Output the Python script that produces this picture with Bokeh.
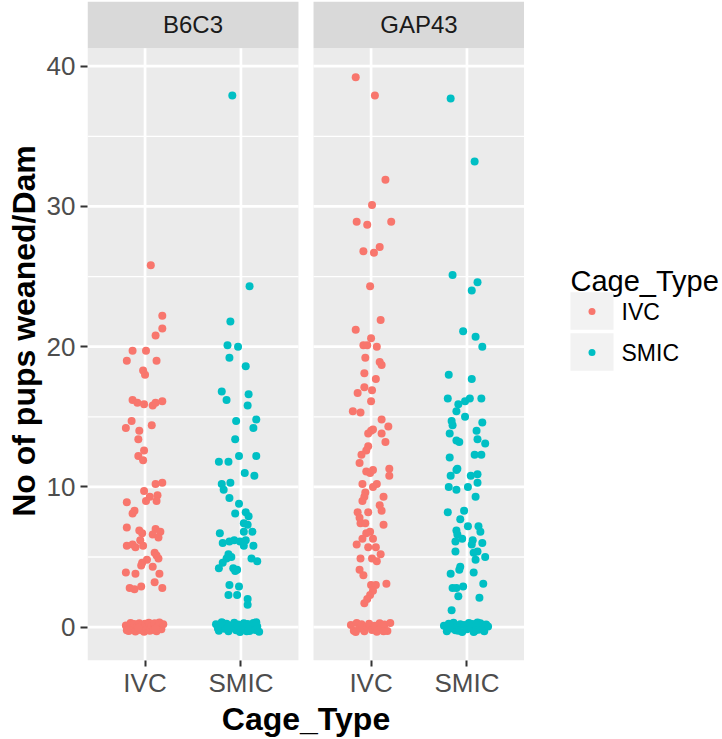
from bokeh.plotting import figure
from bokeh.models import Range1d, FixedTicker, ColumnDataSource
from bokeh.layouts import row
from bokeh.core.properties import value
from bokeh.embed import file_html
from bokeh.resources import INLINE

# ---------------- data (jitter as seen) ----------------
facets = ["B6C3", "GAP43"]
cage_types = ["IVC", "SMIC"]
y_ticks = [0, 10, 20, 30, 40]

b6c3_ivc_y = [25.8, 22.2, 21.3, 20.8, 19.7, 19.7, 19.0, 19.0, 18.3, 18.0, 16.2, 16.0, 15.9, 15.8, 16.0, 16.1,
              14.7, 14.2, 14.4, 14.0, 13.4, 12.6, 12.2, 11.9, 10.3, 10.2, 9.7, 9.4, 9.3, 8.9, 9.0, 9.0, 8.3, 8.1,
              7.1, 6.9, 7.0, 6.8, 6.7, 6.6, 6.4, 6.2, 5.8, 5.9, 5.7, 5.8, 5.3, 5.1, 4.9, 4.8, 4.6, 4.4, 4.3,
              3.9, 3.8, 3.8, 3.2, 2.8, 2.7, 2.9, 2.8,
              0.12, -0.28, 0.3, -0.08, 0.22, -0.31, 0.05, 0.28, -0.2, 0.15, -0.33, 0.24, -0.1, 0.31, -0.26, 0.08,
              -0.18, 0.27, -0.3, 0.1, 0.33, -0.15, 0.2, -0.22, -0.05, -0.12]
b6c3_ivc_dx = [0.06, 0.18, 0.18, 0.11, -0.13, 0.01, -0.19, 0.12, -0.02, 0.0, -0.13, -0.08, -0.01, 0.08, 0.11, 0.18,
               -0.14, -0.2, 0.07, -0.06, -0.07, -0.01, -0.07, -0.02, 0.18, 0.11, -0.01, 0.13, 0.05, -0.19, 0.01, 0.12,
               -0.11, -0.13, -0.19, -0.06, 0.11, 0.16, -0.03, 0.08, 0.14, -0.05, -0.19, -0.13, -0.1, -0.02, 0.10,
               0.12, 0.14, 0.02, -0.03, -0.04, 0.08, -0.2, -0.1, 0.15, 0.10, -0.16, -0.11, -0.04, 0.18,
               -0.2, -0.17, -0.15, -0.13, -0.11, -0.1, -0.08, -0.06, -0.05, -0.03, -0.01, 0.0, 0.02, 0.04, 0.05,
               0.07, 0.09, 0.1, 0.12, 0.14, 0.15, 0.17, 0.19, -0.19, -0.07, 0.11]

b6c3_smic_y = [37.9, 24.3, 21.8, 20.1, 20.0, 19.2, 18.6, 16.8, 16.6, 16.2, 15.8, 14.7, 14.8, 14.2, 13.4, 12.2, 12.2,
               11.8, 11.8, 11.0, 10.8, 10.2, 10.3, 9.8, 9.2, 8.8, 8.1, 8.2, 7.9, 7.4, 7.3, 6.7, 6.8, 6.8, 6.0, 6.1,
               6.2, 6.1, 6.2, 5.8, 5.8, 5.2, 5.0, 4.9, 4.9, 4.7, 4.6, 4.2, 4.2, 4.1, 4.0, 3.0, 2.9, 2.3, 2.3, 2.0, 1.6,
               0.2, -0.25, 0.05, 0.3, -0.12, 0.25, -0.3, 0.12, -0.05, 0.32, -0.22, 0.18, -0.34, 0.08, 0.28, -0.15,
               0.22, -0.28, 0.1, 0.3, -0.2, 0.05, -0.32, -0.1, -0.05, 0.15, -0.3, 0.35, 0.35, -0.2]
b6c3_smic_dx = [-0.09, 0.09, -0.11, -0.14, -0.03, -0.12, 0.05, -0.2, 0.08, -0.15, 0.07, -0.05, 0.16, 0.13, -0.06,
                -0.02, 0.16, -0.23, -0.13, 0.04, 0.14, -0.2, -0.11, -0.18, -0.12, -0.02, -0.06, 0.05, 0.08, 0.03, 0.07,
                -0.22, 0.03, 0.12, -0.19, -0.12, -0.07, -0.01, 0.05, 0.03, 0.13, -0.13, -0.1, -0.15, 0.11, 0.17, -0.19,
                -0.23, -0.08, -0.04, -0.06, -0.12, -0.02, -0.13, -0.04, 0.07, 0.07,
                -0.26, -0.23, -0.21, -0.19, -0.17, -0.15, -0.13, -0.11, -0.09, -0.07, -0.05, -0.03, -0.01, 0.01,
                0.03, 0.05, 0.07, 0.09, 0.11, 0.13, 0.15, 0.17, 0.19, -0.24, -0.14, -0.04, 0.06, 0.16, -0.2, 0.0]

gap43_ivc_y = [39.2, 37.9, 31.9, 30.1, 28.9, 28.7, 28.9, 26.8, 27.1, 26.7, 24.3, 21.9, 21.2, 20.6, 20.1, 20.1, 20.0,
               19.2, 18.9, 18.7, 18.1, 17.7, 17.1, 16.7, 16.9, 16.1, 15.4, 15.3, 14.8, 14.3, 14.1, 14.0, 13.8, 13.8,
               13.2, 12.9, 12.6, 12.3, 11.7, 11.1, 11.0, 11.2, 11.3, 10.8, 10.2, 10.0, 10.2, 9.6, 9.3, 9.3, 9.0, 8.7,
               8.3, 8.2, 8.2, 7.8, 7.4, 7.4, 7.3, 6.8, 6.7, 6.3, 6.3, 5.9, 5.7, 5.7, 5.2, 4.9, 4.9, 4.7, 4.1, 3.7,
               3.1, 3.0, 3.0, 2.6, 2.3, 2.0, 1.7,
               0.15, -0.25, 0.3, -0.1, 0.2, -0.3, 0.05, 0.25, -0.2, 0.1, -0.32, 0.28, -0.05, 0.18, -0.28, 0.3,
               -0.35, -0.3]
gap43_ivc_dx = [-0.16, 0.04, 0.15, 0.01, -0.15, -0.04, 0.21, -0.08, 0.09, 0.03, -0.01, 0.10, -0.16, 0.0, -0.08,
                -0.04, 0.06, -0.06, 0.09, 0.11, -0.07, 0.05, -0.07, -0.14, 0.01, 0.0, -0.19, -0.11, 0.11, 0.18, 0.02,
                0.0, -0.03, 0.11, 0.15, -0.03, -0.05, -0.1, -0.12, -0.05, -0.01, 0.02, 0.19, 0.19, -0.09, 0.02, 0.06,
                -0.06, -0.07, 0.13, -0.09, 0.09, 0.11, -0.14, -0.03, -0.12, -0.11, -0.06, 0.13, -0.01, -0.05, -0.09,
                0.02, -0.15, -0.03, 0.05, 0.10, -0.11, 0.01, 0.06, -0.12, -0.08, 0.16, 0.0, 0.05, 0.02, -0.01, -0.04,
                -0.07,
                -0.21, -0.18, -0.15, -0.12, -0.1, -0.07, -0.04, -0.02, 0.01, 0.04, 0.06, 0.09, 0.11, 0.14, 0.17,
                0.2, -0.16, 0.13]

gap43_smic_y = [37.7, 33.2, 25.1, 24.6, 24.0, 21.1, 20.7, 20.0, 18.0, 17.7, 16.3, 16.3, 16.3, 16.1, 15.9, 15.4, 15.0,
                14.7, 14.6, 14.4, 14.0, 13.8, 13.4, 13.3, 13.2, 13.1, 12.3, 12.3, 12.1, 11.3, 11.2, 10.8, 10.8, 10.9,
                10.0, 9.8, 10.0, 10.3, 9.3, 8.2, 8.3, 7.7, 7.2, 7.2, 6.9, 6.8, 6.6, 6.3, 6.2, 6.1, 6.0, 5.9, 5.4, 5.4,
                5.3, 5.0, 4.8, 4.3, 4.1, 3.8, 3.9, 3.1, 2.8, 2.8, 2.9, 2.2, 2.1, 1.2,
                0.1, -0.3, 0.25, -0.1, 0.32, -0.22, 0.05, 0.2, -0.35, 0.15, -0.15, 0.3, -0.05, 0.22, -0.28, 0.12,
                -0.18, 0.28, 0.0, -0.3, 0.18, 0.05, -0.25, -0.35, 0.33]
gap43_smic_dx = [-0.17, 0.08, -0.15, 0.11, 0.05, -0.04, 0.09, 0.16, -0.19, 0.05, -0.2, 0.15, 0.03, -0.02, -0.09,
                 -0.11, -0.02, -0.16, 0.16, -0.15, 0.1, -0.18, 0.11, -0.11, -0.08, 0.19, 0.15, 0.08, -0.18, -0.1,
                 -0.11, -0.17, 0.04, 0.11, -0.19, -0.11, 0.01, 0.11, 0.09, -0.2, -0.03, -0.07, 0.01, 0.12, -0.11, 0.14,
                 -0.1, -0.05, 0.06, -0.12, 0.16, 0.05, -0.12, 0.11, 0.07, 0.19, 0.09, -0.07, -0.08, -0.17, 0.07, 0.17,
                 -0.15, -0.11, -0.04, -0.09, 0.13, -0.16,
                 -0.24, -0.21, -0.19, -0.17, -0.14, -0.12, -0.1, -0.07, -0.05, -0.03, 0.0, 0.02, 0.04, 0.06, 0.08,
                 0.1, 0.12, 0.14, 0.16, 0.18, 0.2, 0.22, -0.09, 0.07, 0.11]

groups = [
    ("B6C3", "IVC", b6c3_ivc_y, b6c3_ivc_dx),
    ("B6C3", "SMIC", b6c3_smic_y, b6c3_smic_dx),
    ("GAP43", "IVC", gap43_ivc_y, gap43_ivc_dx),
    ("GAP43", "SMIC", gap43_smic_y, gap43_smic_dx),
]

colors = {"IVC": "#F8766D", "SMIC": "#00BFC4"}
FONT = "Liberation Sans"

# ---------------- layout constants ----------------
PANEL_OFFSET = 2.357          # x offset of second facet (2.2 panel width + gap)
X_LO, X_HI = 0.4, 2.6 + PANEL_OFFSET
Y_LO, Y_PANEL_TOP, Y_HI = -2.378, 41.28, 44.61


def xpos(facet, cage):
    return cage_types.index(cage) + 1 + facets.index(facet) * PANEL_OFFSET


p = figure(width=524, height=739, x_range=Range1d(X_LO, X_HI), y_range=Range1d(Y_LO, Y_HI),
           output_backend="svg", toolbar_location=None,
           min_border_left=87, min_border_right=0, min_border_top=1, min_border_bottom=79)
p.outline_line_color = None
p.background_fill_color = "white"
p.border_fill_color = "white"
p.xgrid.visible = False
p.ygrid.visible = False

# panels, strips, grid
for i, f in enumerate(facets):
    left = 0.4 + i * PANEL_OFFSET
    right = 2.6 + i * PANEL_OFFSET
    p.quad(left=[left], right=[right], bottom=[Y_LO], top=[Y_PANEL_TOP], fill_color="#EBEBEB", line_color=None)
    p.quad(left=[left], right=[right], bottom=[Y_PANEL_TOP], top=[Y_HI], fill_color="#D9D9D9", line_color=None)
    minors = [5, 15, 25, 35]
    p.segment(x0=[left] * 4, x1=[right] * 4, y0=minors, y1=minors, line_color="white", line_width=1.3)
    p.segment(x0=[left] * 5, x1=[right] * 5, y0=y_ticks, y1=y_ticks, line_color="white", line_width=2.7)
    cx = [xpos(f, c) for c in cage_types]
    p.segment(x0=cx, x1=cx, y0=[Y_LO] * 2, y1=[Y_PANEL_TOP] * 2, line_color="white", line_width=2.7)
    p.text(x=[(left + right) / 2], y=[(Y_PANEL_TOP + Y_HI) / 2], text=[f], text_font=value(FONT),
           text_font_size="24px", text_color="#1A1A1A", text_align="center", text_baseline="middle")

# points
for f, c, ys, dxs in groups:
    base = xpos(f, c)
    src = ColumnDataSource(dict(x=[base + d for d in dxs], y=ys))
    p.scatter(x="x", y="y", source=src, size=8, fill_color=colors[c], line_color=None)

# axes
tick_pos = [xpos(f, c) for f in facets for c in cage_types]
p.xaxis.ticker = FixedTicker(ticks=tick_pos)
p.xaxis.major_label_overrides = {t: c for t, c in zip(tick_pos, cage_types * 2)}
p.yaxis.ticker = FixedTicker(ticks=y_ticks)
for ax in (p.xaxis, p.yaxis):
    ax.axis_line_color = None
    ax.major_tick_line_color = "#333333"
    ax.major_tick_line_width = 2
    ax.major_tick_in = 0
    ax.minor_tick_line_color = None
    ax.major_label_text_font = FONT
    ax.major_label_text_font_size = "26px"
    ax.major_label_text_color = "#4D4D4D"
    ax.axis_label_text_font = FONT
    ax.axis_label_text_font_size = "32px"
    ax.axis_label_text_font_style = "bold"
    ax.axis_label_text_color = "black"
p.xaxis.major_tick_out = 6
p.yaxis.major_tick_out = 7
p.xaxis.major_label_standoff = 1
p.yaxis.major_label_standoff = 5
p.xaxis.axis_label = "Cage_Type"
p.yaxis.axis_label = "No of pups weaned/Dam"
p.xaxis.axis_label_standoff = 0
p.yaxis.axis_label_standoff = 2

# ---------------- legend panel ----------------
LG_W = 722 - 524
lg = figure(width=LG_W, height=739, x_range=Range1d(0, LG_W), y_range=Range1d(739, 0),
            output_backend="svg", toolbar_location=None, x_axis_type=None, y_axis_type=None,
            min_border=0)
lg.outline_line_color = None
lg.xgrid.visible = False
lg.ygrid.visible = False
lg.background_fill_color = "white"
lg.border_fill_color = "white"
lg.text(x=[46], y=[313], text=["Cage_Type"], text_font=value(FONT), text_font_size="29px",
        text_color="black", text_baseline="alphabetic")
for k, c in enumerate(cage_types):
    top = 326 + k * 46
    lg.quad(left=[46], right=[89], top=[top], bottom=[top + 42], fill_color="#F2F2F2", line_color=None)
    lg.scatter(x=[67.5], y=[top + 21.5], size=7, fill_color=colors[c], line_color=None)
    lg.text(x=[97], y=[top + 22], text=[c], text_font=value(FONT), text_font_size="23px",
            text_color="black", text_baseline="middle")

layout = row(p, lg)
open("out.html", "w").write(file_html(layout, INLINE))
